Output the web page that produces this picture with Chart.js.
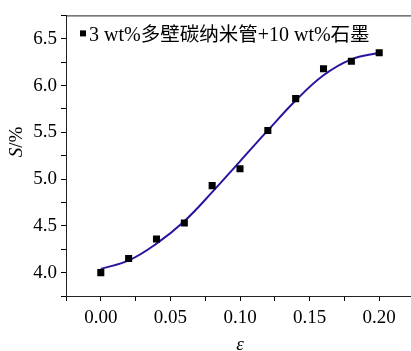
<!DOCTYPE html>
<html>
<head>
<meta charset="utf-8">
<script src="https://cdn.jsdelivr.net/npm/chart.js@4/dist/chart.umd.min.js"></script>
<style>
  html, body { margin: 0; padding: 0; background: #fff; overflow: hidden; }
  canvas { display: block; }
</style>
</head>
<body>
<canvas id="chart" width="414" height="351"></canvas>
<script>
// measured points
const strainValues = [0, 0.02, 0.04, 0.06, 0.08, 0.10, 0.12, 0.14, 0.16, 0.18, 0.20];
const sensitivity = [4.00, 4.15, 4.36, 4.53, 4.93, 5.11, 5.52, 5.86, 6.18, 6.26, 6.35];
// fitted curve
const fitStrain = [0, 0.02, 0.04, 0.06, 0.08, 0.10, 0.12, 0.14, 0.16, 0.18, 0.20];
const fitValues = [4.04, 4.13, 4.31, 4.55, 4.86, 5.19, 5.52, 5.84, 6.11, 6.28, 6.35];

const legendParts = [
    { text: '3 wt%', font: '20px "Liberation Serif"' },
    { text: '多壁碳纳米管', font: '19.5px "Noto Sans CJK SC"' },
    { text: '+10 wt%', font: '20px "Liberation Serif"' },
    { text: '石墨', font: '19.5px "Noto Sans CJK SC"' }
];

const tickFont = { family: 'Liberation Serif', size: 19 };

const extras = {
    id: 'extras',
    afterDraw(chart) {
        const ctx = chart.ctx;
        const a = chart.chartArea;
        ctx.save();
        // frame
        ctx.strokeStyle = '#222';
        ctx.lineWidth = 1;
        ctx.strokeRect(a.left + 0.5, a.top + 0.5, a.right - a.left - 1, a.bottom - a.top);

        // legend
        ctx.fillStyle = '#000';
        ctx.fillRect(a.left + 14, a.top + 15, 6, 6);
        let x = a.left + 23;
        ctx.textBaseline = 'alphabetic';
        legendParts.forEach(p => {
            ctx.font = p.font;
            ctx.fillText(p.text, x, a.top + 26);
            x += ctx.measureText(p.text).width;
        });

        // y title: S/%
        ctx.translate(17, 142);
        ctx.rotate(-Math.PI / 2);
        ctx.textBaseline = 'middle';
        ctx.font = 'italic 19px "Liberation Serif"';
        const w1 = ctx.measureText('S').width;
        ctx.font = '19px "Liberation Serif"';
        const w2 = ctx.measureText('/%').width;
        const sx = -(w1 + w2) / 2;
        ctx.font = 'italic 19px "Liberation Serif"';
        ctx.fillText('S', sx, 0);
        ctx.font = '19px "Liberation Serif"';
        ctx.fillText('/%', sx + w1, 0);
        ctx.restore();

        // x title
        ctx.save();
        ctx.fillStyle = '#000';
        ctx.font = 'italic 19px "Liberation Serif"';
        ctx.textAlign = 'center';
        ctx.fillText('ε', chart.scales.x.getPixelForValue(0.10), 350);
        ctx.restore();
    }
};

new Chart(document.getElementById('chart'), {
    type: 'scatter',
    data: {
        datasets: [
            {
                label: '3 wt%多壁碳纳米管+10 wt%石墨',
                data: strainValues.map((v, i) => ({ x: v, y: sensitivity[i] })),
                pointStyle: 'rect',
                pointRadius: 5,
                pointBorderWidth: 0,
                backgroundColor: '#000',
                borderColor: '#000',
                order: 0
            },
            {
                label: 'fit',
                type: 'line',
                data: fitStrain.map((v, i) => ({ x: v, y: fitValues[i] })),
                borderColor: '#2d13a0',
                borderWidth: 2,
                pointRadius: 0,
                tension: 0.4,
                fill: false,
                order: 1
            }
        ]
    },
    options: {
        responsive: false,
        animation: false,
        layout: { autoPadding: false, padding: { top: 13, right: 0, left: 0, bottom: 0 } },
        plugins: {
            legend: { display: false },
            tooltip: { enabled: false }
        },
        scales: {
            x: {
                type: 'linear',
                min: -0.025,
                max: 0.225,
                afterFit(scale) { scale.height = 55; scale.paddingRight = 0; scale.paddingLeft = 0; },
                ticks: {
                    stepSize: 0.025,
                    autoSkip: false,
                    maxRotation: 0,
                    color: '#000',
                    font: tickFont,
                    padding: 6,
                    callback: v => (Math.round(v * 1000) % 50 === 0 ? v.toFixed(2) : '')
                },
                grid: { drawOnChartArea: false, tickLength: 5, color: '#000' },
                border: { display: true, color: '#000', width: 1 }
            },
            y: {
                min: 3.75,
                max: 6.75,
                afterFit(scale) { scale.width = 66; },
                ticks: {
                    stepSize: 0.25,
                    autoSkip: false,
                    color: '#000',
                    font: tickFont,
                    padding: 4,
                    callback: v => (Math.round(v * 100) % 50 === 0 ? v.toFixed(1) : '')
                },
                grid: { drawOnChartArea: false, tickLength: 5, color: '#000' },
                border: { display: true, color: '#000', width: 1 }
            }
        }
    },
    plugins: [extras]
});
</script>
</body>
</html>
